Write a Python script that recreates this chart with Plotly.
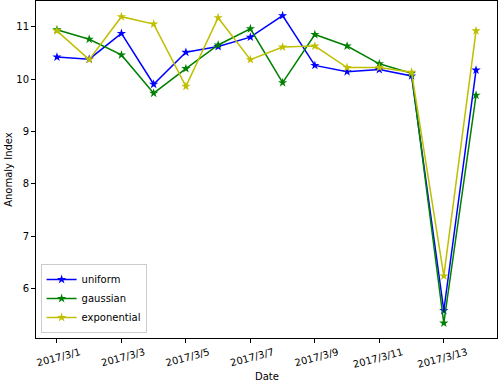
import plotly.graph_objects as go

dates = ["2017-03-%02d" % d for d in range(1, 15)]
uniform = [10.42, 10.38, 10.87, 9.90, 10.51, 10.62, 10.80, 11.21, 10.26, 10.14, 10.18, 10.06, 5.58, 10.17]
gaussian = [10.94, 10.76, 10.46, 9.73, 10.20, 10.65, 10.96, 9.93, 10.85, 10.63, 10.29, 10.11, 5.34, 9.69]
exponential = [10.92, 10.37, 11.19, 11.05, 9.86, 11.17, 10.37, 10.61, 10.63, 10.22, 10.22, 10.13, 6.24, 10.92]

series = [("uniform", uniform, "#0000ff"), ("gaussian", gaussian, "#008000"), ("exponential", exponential, "#bfbf00")]

fig = go.Figure()
for name, vals, col in series:
    fig.add_trace(go.Scatter(x=dates, y=vals, name=name, mode="lines+markers",
                             line=dict(color=col, width=1.5),
                             marker=dict(symbol="star", size=7, color=col, line=dict(width=0))))

axis_common = dict(showline=True, linecolor="black", linewidth=1, mirror=True, automargin=False,
                   ticks="outside", ticklen=4, tickcolor="black", showgrid=False, zeroline=False,
                   tickfont=dict(size=10, color="black"))
fig.update_layout(
    width=498, height=382,
    margin=dict(l=36, r=1, t=1, b=44, autoexpand=False),
    paper_bgcolor="white", plot_bgcolor="white",
    font=dict(family="DejaVu Sans", size=10, color="black"),
    xaxis=dict(type="date", range=["2017-02-28 08:24", "2017-03-14 15:36"],
               tick0="2017-03-01", dtick=2 * 86400000, tickformat="%Y/%-m/%-d", tickangle=-15,
               ticklabelshift=23, **axis_common),
    yaxis=dict(range=[5.055, 11.49], dtick=1, tick0=6, **axis_common),
    legend=dict(x=0.01, y=0.015, xanchor="left", yanchor="bottom", bgcolor="rgba(255,255,255,0.8)",
                bordercolor="#cccccc", borderwidth=1, font=dict(size=10), tracegroupgap=0),
    annotations=[
        dict(text="Date", xref="paper", yref="paper", x=0.5, y=-0.115, xanchor="center", yanchor="middle",
             showarrow=False, font=dict(size=10)),
        dict(text="Anomaly Index", xref="paper", yref="paper", x=-0.06, y=0.5, xanchor="center", yanchor="middle",
             textangle=-90, showarrow=False, font=dict(size=10)),
    ],
    showlegend=True,
)
fig.write_html("out.html", config={"displayModeBar": False},
               post_script="document.body.style.margin='0';")
